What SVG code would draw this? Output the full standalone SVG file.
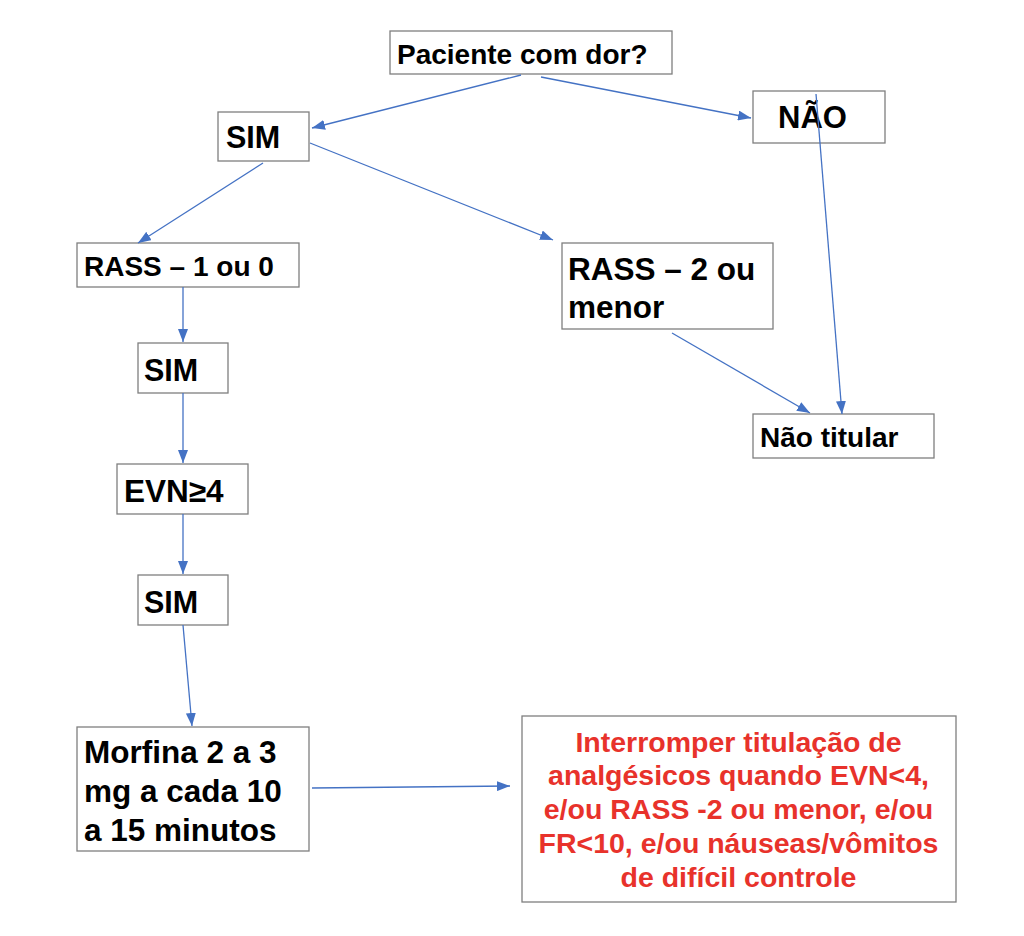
<svg xmlns="http://www.w3.org/2000/svg" width="1024" height="936" viewBox="0 0 1024 936">
<defs>
<style>
.box{fill:#fff;stroke:#7f7f7f;stroke-width:1.3}
.t{font-family:"Liberation Sans",Arial,sans-serif;font-weight:bold;fill:#000}
.r{font-family:"Liberation Sans",Arial,sans-serif;font-weight:bold;fill:#E8322B;text-anchor:middle;font-size:28.5px}
.c{stroke:#4472C4;stroke-width:1.3;fill:none;marker-end:url(#ah)}
</style>
<marker id="ah" markerUnits="userSpaceOnUse" markerWidth="13" markerHeight="10" viewBox="0 0 13 10" refX="13" refY="5" orient="auto">
<path d="M0,0 L13,5 L0,10 z" fill="#4472C4"/>
</marker>
</defs>
<rect width="1024" height="936" fill="#fff"/>
<g id="n-paciente"><rect class="box" x="390" y="31" width="282" height="43"/><text class="t" x="397" y="64" font-size="28">Paciente com dor?</text></g>
<g id="n-sim1"><rect class="box" x="218" y="112" width="91" height="49"/><text class="t" x="226" y="148" font-size="30.5">SIM</text></g>
<g id="n-nao"><rect class="box" x="753" y="91" width="132" height="52"/><text class="t" x="778" y="128" font-size="31">NÃO</text></g>
<g id="n-rass1"><rect class="box" x="77" y="243" width="222" height="44"/><text class="t" x="84" y="276" font-size="28">RASS – 1 ou 0</text></g>
<g id="n-rass2"><rect class="box" x="562" y="243" width="211" height="86"/><text class="t" x="568" y="280" font-size="31.5">RASS – 2 ou</text><text class="t" x="568" y="318" font-size="31.5">menor</text></g>
<g id="n-naotitular"><rect class="box" x="753" y="414" width="181" height="44"/><text class="t" x="760" y="447" font-size="28">Não titular</text></g>
<g id="n-sim2"><rect class="box" x="138" y="343" width="90" height="50"/><text class="t" x="144" y="381" font-size="30.5">SIM</text></g>
<g id="n-evn"><rect class="box" x="117" y="464" width="131" height="50"/><text class="t" x="124" y="502" font-size="31.5">EVN≥4</text></g>
<g id="n-sim3"><rect class="box" x="138" y="575" width="90" height="50"/><text class="t" x="144" y="613" font-size="30.5">SIM</text></g>
<g id="n-morfina"><rect class="box" x="77" y="727" width="232" height="124"/><text class="t" x="84" y="763" font-size="31.5">Morfina 2 a 3</text><text class="t" x="84" y="802" font-size="31.5">mg a cada 10</text><text class="t" x="84" y="841" font-size="31.5">a 15 minutos</text></g>
<g id="n-interromper"><rect class="box" x="522" y="716" width="434" height="186"/>
<text class="r" x="738.5" y="752">Interromper titulação de</text>
<text class="r" x="738.5" y="785">analgésicos quando EVN&lt;4,</text>
<text class="r" x="738.5" y="819">e/ou RASS -2 ou menor, e/ou</text>
<text class="r" x="738.5" y="853">FR&lt;10, e/ou náuseas/vômitos</text>
<text class="r" x="738.5" y="887">de difícil controle</text></g>
<g id="connectors">
<line class="c" x1="521" y1="75" x2="312" y2="128"/>
<line class="c" x1="541" y1="77" x2="751" y2="118"/>
<line class="c" x1="816" y1="94" x2="842" y2="414"/>
<line class="c" x1="263" y1="163" x2="138" y2="243"/>
<line class="c" x1="310" y1="143" x2="553" y2="240"/>
<line class="c" x1="183" y1="287" x2="183" y2="342"/>
<line class="c" x1="183" y1="393" x2="183" y2="463"/>
<line class="c" x1="183" y1="514" x2="183" y2="574"/>
<line class="c" x1="183" y1="625" x2="192" y2="726"/>
<line class="c" x1="672" y1="333" x2="810" y2="413"/>
<line class="c" x1="312" y1="788" x2="510" y2="786"/>
</g>
</svg>
